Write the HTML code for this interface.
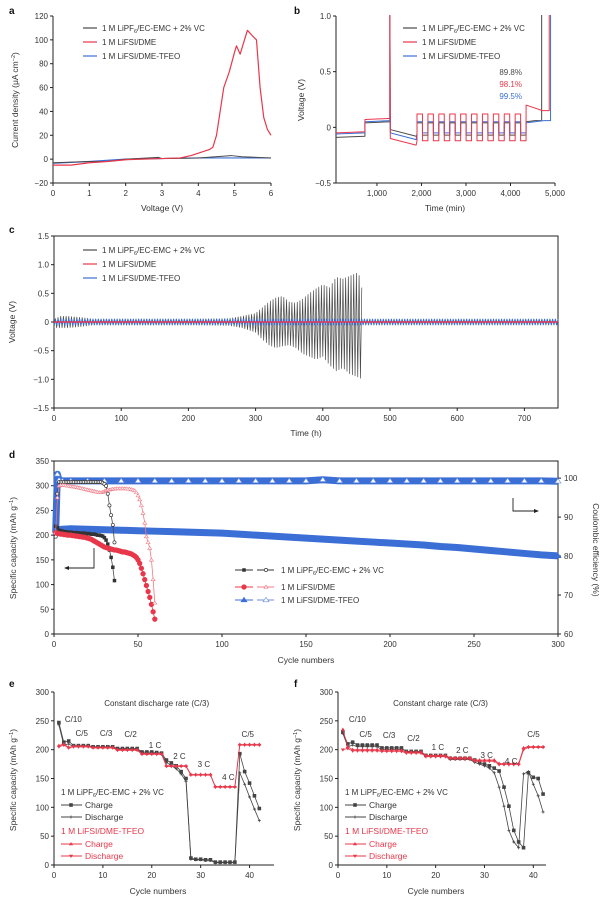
<!DOCTYPE html>
<html><head><meta charset="utf-8"><style>
html,body{margin:0;padding:0;background:#fff;}
svg{display:block;font-family:"Liberation Sans",sans-serif;}
</style></head><body>
<svg id="fig" width="600" height="900" viewBox="0 0 600 900" xmlns="http://www.w3.org/2000/svg"></svg>
<script>
// ---------- DATA ----------
// panel a
const aRedV=[0,0.5,1,1.5,2,3,3.5,3.8,4,4.3,4.4,4.5,4.6,4.7,4.85,5.0,5.05,5.15,5.3,5.35,5.5,5.6,5.7,5.8,5.9,6];
const aRedI=[-5,-5,-3,-2,-0.5,0.5,1,3,5,8,10,20,40,60,73,90,95,88,103,108,103,100,60,35,25,20];
const aBlkV=[0,1,1.5,2,2.9,3,4,4.9,5.2,6];
const aBlkI=[-3,-2,-2,0,1.5,0.5,1,3,2,1];
const aBluV=[0,1,2,3,4,6];
const aBluI=[-3.5,-2,0,0.5,1,1];
// panel b: step segments [start,end] and levels
const bSegT=[[80,730],[730,1290],[1300,1880]];
const bBlkLv=[-0.09,0.04,-0.02];
const bRedLv=[-0.05,0.07,-0.10];
const bBluLv=[-0.06,0.05,-0.05];
const bCycStart=[1900,2145,2390,2635,2880,3125,3370,3615,3860,4105];
const bCycLen=245;
const bRedHi=0.12,bRedLo=-0.12,bBluHi=0.05,bBluLo=-0.05,bBlkHi=0.04,bBlkLo=-0.07;
const bEndT=[4350,4900];
const bRedEnd=[0.2,0.15],bBlkEnd=[0.05,0.06],bBluEnd=[0.04,0.06];
const bSpikeT={blk:4700,red:4870,blu:4900};
const bPct=["89.8%","98.1%","99.5%"];
// panel c
const cT=[0,10,20,40,60,100,200,260,280,300,310,320,330,340,350,360,370,380,390,400,410,420,430,440,450,455,458];
const cUp=[0.05,0.1,0.1,0.08,0.05,0.05,0.05,0.06,0.1,0.15,0.25,0.35,0.42,0.45,0.35,0.33,0.4,0.5,0.58,0.65,0.6,0.78,0.75,0.8,0.85,0.8,0.6];
const cLow=[-0.1,-0.1,-0.1,-0.08,-0.05,-0.05,-0.05,-0.06,-0.1,-0.18,-0.3,-0.4,-0.45,-0.42,-0.4,-0.45,-0.55,-0.6,-0.65,-0.6,-0.75,-0.85,-0.8,-0.9,-0.95,-0.97,-1.0];
const cBluAmp=0.05,cRedAmp=0.01,cPeriod=4,cEnd=750;
// panel d
const dBlkCap=[218,215,210,209,208,207,207,206,206,206,205,205,205,205,204,204,204,204,203,203,203,202,202,202,201,200,200,199,198,195,190,182,170,155,135,108];
const dBlkCE=[85,96,99,99,99,99,99,99,99,99,99,99,99,99,99,99,99,99,99,99,99,99,99,99,99,99,99,99,98.8,98.5,98,96,93,90.5,88,83.5];
const dRedCap=[205,204,203,202,202,201,201,200,200,200,199,199,198,198,197,197,196,196,195,194,193,192,190,188,186,184,182,180,178,176,175,174,173,172,171,170,170,169,168,167,166,166,165,164,163,162,160,158,155,150,143,133,122,110,98,86,74,60,45,30];
const dRedCE=[86,95,98,98.2,98.2,98.2,98.1,98,98,97.9,97.8,97.8,97.7,97.6,97.5,97.4,97.3,97.2,97.1,97,96.9,96.8,96.7,96.6,96.5,96.4,96.3,96.3,96.4,96.6,96.8,97,97,97.1,97.2,97.2,97.3,97.3,97.3,97.3,97.3,97.3,97.3,97.2,97.2,97.1,97,96.8,96.3,95.5,94.5,93,91,88.5,85,83.5,82,79,74,68];
const dBluCyc=[1,2,3,5,10,20,30,40,50,60,70,80,90,100,110,120,130,140,150,160,170,180,190,200,210,220,230,240,250,260,270,280,290,300];
const dBluCap=[210,205,211,212,213,212,211,210,209,208,207,206,205,204,202,200,198,196,194,192,190,188,186,184,182,180,177,175,172,169,166,163,160,158];
const dBluCE=[86,101,99.5,99.3,99.3,99.3,99.3,99.3,99.3,99.3,99.3,99.3,99.3,99.3,99.3,99.3,99.3,99.3,99.3,99.6,99.3,99.3,99.3,99.3,99.3,99.3,99.3,99.3,99.3,99.3,99.3,99.3,99.3,99.2];
// panel e
const eBlkCh=[247,213,215,207,207,207,207,205,205,205,205,205,202,202,202,202,202,196,196,196,195,194,182,177,172,162,150,12,10,10,9,9,5,5,5,5,5,193,162,142,120,98];
const eBlkDis=[243,208,210,205,205,205,205,204,204,204,204,204,201,201,201,201,201,194,194,194,193,192,178,172,167,158,145,10,9,9,8,8,4,4,4,4,4,160,140,118,97,77];
const eRedCh=[207,210,204,206,206,206,206,204,204,204,204,204,200,200,200,200,200,193,193,193,193,193,172,172,172,172,172,157,157,157,157,157,136,136,136,136,136,209,209,209,209,209];
const eRedDis=[205,208,203,205,205,205,205,203,203,203,203,203,199,199,199,199,199,192,192,192,192,192,171,171,171,171,171,156,156,156,156,156,135,135,135,135,135,208,208,208,208,208];
// panel f
const fBlkCh=[230,210,213,208,208,208,208,208,203,203,203,203,203,197,197,197,197,190,190,190,190,190,185,185,185,185,185,182,178,175,172,168,163,135,102,60,40,30,160,152,150,123];
const fBlkDis=[228,205,208,205,205,205,205,205,200,200,200,200,200,195,195,195,195,188,188,188,188,188,183,183,183,183,183,178,175,172,168,160,135,102,60,40,30,158,162,140,120,92];
const fRedCh=[235,205,200,200,200,200,200,200,199,199,199,199,199,196,196,196,196,190,190,190,190,190,186,186,186,186,186,182,182,182,182,182,176,176,176,176,176,203,205,205,205,205];
const fRedDis=[200,202,198,198,198,198,198,198,197,197,197,197,197,194,194,194,194,188,188,188,188,188,184,184,184,184,184,180,180,180,180,180,174,174,174,174,174,200,204,204,204,204];
const eRates=[["C/10",1],["C/5",5],["C/3",10],["C/2",15],["1 C",20],["2 C",25],["3 C",30],["4 C",35],["C/5",40]];

// ---------- HELPERS ----------
const NS='http://www.w3.org/2000/svg';
const svg=document.getElementById('fig');
const BLK='#4a4a4a',RED='#e8374a',BLU='#3b6fd6',TXT='#333';
function mk(tag,attrs,parent){const e=document.createElementNS(NS,tag);for(const k in attrs)e.setAttribute(k,attrs[k]);(parent||svg).appendChild(e);return e;}
function lin(d0,d1,r0,r1){return v=>r0+(v-d0)*(r1-r0)/(d1-d0);}
function txt(x,y,s,opt,parent){opt=opt||{};const t=mk('text',{x:x,y:y,'font-size':opt.fs||8,fill:opt.fill||TXT,'text-anchor':opt.anchor||'start'},parent);if(opt.rot)t.setAttribute('transform','rotate(-90 '+x+' '+y+')');if(opt.rot90)t.setAttribute('transform','rotate(90 '+x+' '+y+')');t.textContent=s;return t;}
function fmt(v){return (v<0?'\u2212':'')+Math.abs(v);}
function axes(g,X,Y,xt,yt,xl,yl,box,x0,x1,y0,y1){
  const ax=mk('path',{d:box?`M${x0} ${y0}H${x1}V${y1}H${x0}Z`:`M${x0} ${y0}V${y1}H${x1}`,fill:'none',stroke:'#222','stroke-width':1},g);
  
  
  xt.forEach((v,i)=>{const px=X(v);mk('line',{x1:px,x2:px,y1:y1,y2:y1+3,stroke:'#222'},g);
    const t=txt(px,y1+13,xl[i],{anchor:'middle'},g);
    
    });
  yt.forEach((v,i)=>{const py=Y(v);mk('line',{x1:x0-3,x2:x0,y1:py,y2:py,stroke:'#222'},g);
    const t=txt(x0-5,py+3,yl[i],{anchor:'end'},g);
    
    });
}
function poly(g,xs,ys,X,Y,col,w){const p=mk('polyline',{points:xs.map((x,i)=>X(x)+','+Y(ys[i])).join(' '),fill:'none',stroke:col,'stroke-width':w||1,'stroke-linejoin':'round'},g);return p;}
function group(name){const g=mk('g',{});return g;}
function legLiPF(g,x,y,fs){const t=mk('text',{x:x,y:y,'font-size':fs||8,fill:TXT},g);t.innerHTML='1 M LiPF<tspan font-size="5.5" dy="2">6</tspan><tspan dy="-2">/EC-EMC + 2% VC</tspan>';return t;}
function legendABC(g,x,y,dy){
  const cols=[BLK,RED,BLU];const names=[null,'1 M LiFSI/DME','1 M LiFSI/DME-TFEO'];
  cols.forEach((c,i)=>{const l=mk('line',{x1:x,x2:x+14,y1:y+i*dy-3,y2:y+i*dy-3,stroke:c,'stroke-width':1.2},g);
    
    
    if(i===0)legLiPF(g,x+19,y);else{const t=txt(x+19,y+i*dy,names[i],{},g);}});
}
function letter(x,y,s){const t=txt(x,y,s,{fs:10});t.setAttribute('font-weight','bold');t.setAttribute('fill','#111');}
function interpEnv(ts,vs,t){for(let i=1;i<ts.length;i++){if(t<=ts[i]){const f=(t-ts[i-1])/(ts[i]-ts[i-1]);return vs[i-1]+f*(vs[i]-vs[i-1]);}}return vs[vs.length-1];}

// ---------- PANEL A ----------
(function(){
const g=group('panel-a');
const X=lin(0,6,53,271),Y=lin(-20,120,183,16);
axes(g,X,Y,[0,1,2,3,4,5,6],[-20,0,20,40,60,80,100,120],['0','1','2','3','4','5','6'],[-20,0,20,40,60,80,100,120].map(fmt),false,53,271,16,183);
let p=poly(g,aBluV,aBluI,X,Y,BLU,1.2);
p=poly(g,aBlkV,aBlkI,X,Y,BLK,1);
p=poly(g,aRedV,aRedI,X,Y,RED,1.2);
legendABC(g,83,31,14);
let t=txt(162,211,'Voltage (V)',{anchor:'middle',fs:8.5},g);
t=mk('text',{x:18,y:100,'font-size':8.5,fill:TXT,'text-anchor':'middle',transform:'rotate(-90 18 100)'},g);
t.innerHTML='Current density (\u03bcA cm<tspan font-size="5.5" dy="-3">\u22122</tspan><tspan dy="3">)</tspan>';

letter(9,14,'a');
})();

// ---------- PANEL B ----------
(function(){
const g=group('panel-b');
const X=lin(80,5000,336,555),Y=lin(-0.5,1.0,183,16);
const cl=mk('clipPath',{id:'clipb'});mk('rect',{x:336,y:15,width:220,height:169},cl);
axes(g,X,Y,[1000,2000,3000,4000,5000],[-0.5,0,0.5,1.0],['1,000','2,000','3,000','4,000','5,000'],['\u22120.5','0','0.5','1.0'],false,336,555,16,183);
function build(lv,hi,lo,endLv,spike){
  const pts=[];
  bSegT.forEach((s,i)=>{pts.push([s[0],lv[i]]);pts.push([s[1],lv[i]+(i==2?-0.06:0.01)]);});
  pts.splice(4,0,[1290,1.2]);
  bCycStart.forEach(c=>{pts.push([c,lo]);pts.push([c,hi]);pts.push([c+bCycLen/2,hi]);pts.push([c+bCycLen/2,lo]);pts.push([c+bCycLen,lo]);});
  pts.push([bEndT[0],endLv[0]]);pts.push([spike-150,endLv[1]]);pts.push([spike,endLv[1]]);pts.push([spike,1.2]);
  return pts;}
const sets=[[bBlkLv,bBlkHi,bBlkLo,bBlkEnd,bSpikeT.blk,BLK,'series-lipf6'],[bBluLv,bBluHi,bBluLo,bBluEnd,bSpikeT.blu,BLU,'series-lifsi-dme-tfeo'],[bRedLv,bRedHi,bRedLo,bRedEnd,bSpikeT.red,RED,'series-lifsi-dme']];
sets.forEach(s=>{const pts=build(s[0],s[1],s[2],s[3],s[4]);
  const p=poly(g,pts.map(q=>q[0]),pts.map(q=>q[1]),X,Y,s[5],1);p.setAttribute('clip-path','url(#clipb)');
  
  });
legendABC(g,403,31,14);
[BLK,RED,BLU].forEach((c,i)=>{const t=txt(522,75+i*12,bPct[i],{anchor:'end',fill:c},g);});
let t=txt(445,211,'Time (min)',{anchor:'middle',fs:8.5},g);
t=txt(304,100,'Voltage (V)',{anchor:'middle',fs:8.5,rot:true},g);
letter(294,14,'b');
})();

// ---------- PANEL C ----------
(function(){
const g=group('panel-c');
const X=lin(0,750,54,558),Y=lin(-1.5,1.5,408,236);
axes(g,X,Y,[0,100,200,300,400,500,600,700],[-1.5,-1,-0.5,0,0.5,1,1.5],['0','100','200','300','400','500','600','700'],['\u22121.5','\u22121.0','\u22120.5','0','0.5','1.0','1.5'],true,54,558,236,408);
const bx=[],by=[];let k=0;
for(let t=0;t<=cT[cT.length-1];t+=cPeriod/2,k++){bx.push(t);by.push(k%2?interpEnv(cT,cUp,t):interpEnv(cT,cLow,t));}
let p=poly(g,bx,by,X,Y,BLK,0.7);
const ux=[],uy=[];k=0;for(let t=0;t<=cEnd;t+=cPeriod/2,k++){ux.push(t);uy.push(k%2?cBluAmp:-cBluAmp);}
p=poly(g,ux,uy,X,Y,BLU,1);
p=poly(g,[0,cEnd],[0,0],X,Y,RED,1.6);
legendABC(g,83,253,14);
let t=txt(306,436,'Time (h)',{anchor:'middle',fs:8.5},g);
t=txt(15,322,'Voltage (V)',{anchor:'middle',fs:8.5,rot:true},g);
letter(9,233,'c');
})();

// ---------- PANEL D ----------
(function(){
const g=group('panel-d');
const X=lin(0,300,54,558),Y=lin(0,350,634,461),Y2=lin(60,104.4,634,461);
axes(g,X,Y,[0,50,100,150,200,250,300],[0,50,100,150,200,250,300,350],['0','50','100','150','200','250','300'],['0','50','100','150','200','250','300','350'],true,54,558,461,634);
[60,70,80,90,100].forEach(v=>{const py=Y2(v);mk('line',{x1:558,x2:561,y1:py,y2:py,stroke:'#222'},g);
  const t=txt(564,py+3,String(v),{},g);});
function sq(x,y,c,s){const r=mk('rect',{x:x-s/2,y:y-s/2,width:s,height:s,fill:c},g);return r;}
function circ(x,y,c,r,open){return mk('circle',{cx:x,cy:y,r:r,fill:open?'#fff':c,stroke:c,'stroke-width':0.7},g);}
function tri(x,y,c,s,open,down){const d=down?1:-1;return mk('path',{d:`M${x-s} ${y-d*s*0.6}L${x+s} ${y-d*s*0.6}L${x} ${y+d*s*0.9}Z`,fill:open?'#fff':c,stroke:c,'stroke-width':0.6},g);}
const bc=dBluCyc;
let p=poly(g,bc,dBluCap,X,Y,BLU,7);
p=poly(g,bc,dBluCE,X,Y2,BLU,7);
bc.forEach((c,i)=>{let m=tri(X(c),Y(dBluCap[i]),BLU,3);
  m=tri(X(c),Y2(dBluCE[i]),'#6b8fe0',3,true);});
const kc=dBlkCap.map((v,i)=>i+1);
p=poly(g,kc,dBlkCap,X,Y,BLK,0.8);
p=poly(g,kc,dBlkCE,X,Y2,BLK,0.8);
kc.forEach((c,i)=>{let m=sq(X(c),Y(dBlkCap[i]),'#333',3.5);
  m=circ(X(c),Y2(dBlkCE[i]),'#333',1.6,true);});
const rc=dRedCap.map((v,i)=>i+1);
p=poly(g,rc,dRedCap,X,Y,RED,0.8);
p=poly(g,rc,dRedCE,X,Y2,'#f07a85',0.8);
rc.forEach((c,i)=>{let m=circ(X(c),Y(dRedCap[i]),RED,2.3);
  m=tri(X(c),Y2(dRedCE[i]),'#f07a85',2,true);});
let a=mk('path',{d:'M94 548V568H66',fill:'none',stroke:'#222','stroke-width':0.9},g);
mk('path',{d:'M64 568L69 566L69 570Z',fill:'#222'},g);
a=mk('path',{d:'M513 498V511H537',fill:'none',stroke:'#222','stroke-width':0.9},g);
mk('path',{d:'M539 511L534 509L534 513Z',fill:'#222'},g);
const ly=[570,587,600];
const lcol=[['#333','#333'],[RED,'#f07a85'],[BLU,'#6b8fe0']];
ly.forEach((y,i)=>{mk('line',{x1:235,x2:253,y1:y,y2:y,stroke:lcol[i][0]},g);mk('line',{x1:257,x2:274,y1:y,y2:y,stroke:lcol[i][1]},g);
  let m;if(i===0){m=sq(244,y,'#333',3.5);circ(266,y,'#333',1.6,true);}else if(i===1){m=circ(244,y,RED,2.3);tri(266,y,lcol[i][1],2,true);}else{m=tri(244,y,BLU,3);tri(266,y,lcol[i][1],3,true);}
  });
legLiPF(g,281,573);
let t=txt(281,590,'1 M LiFSI/DME',{},g);
t=txt(281,603,'1 M LiFSI/DME-TFEO',{},g);
t=txt(306,663,'Cycle numbers',{anchor:'middle',fs:8.5},g);
t=mk('text',{x:16,y:548,'font-size':8.5,fill:TXT,'text-anchor':'middle',transform:'rotate(-90 16 548)'},g);
t.innerHTML='Specific capacity (mAh g<tspan font-size="5.5" dy="-3">\u22121</tspan><tspan dy="3">)</tspan>';

t=txt(593,550,'Coulombic efficiency (%)',{anchor:'middle',fs:8.5,rot90:true},g);
letter(9,458,'d');
})();

// ---------- PANELS E & F ----------
function ratePanel(name,x0,x1,xmax,chB,disB,chR,disR,title,rateY,rateDx){
const g=group(name);
const X=lin(0,xmax,x0,x1),Y=lin(0,300,865,692);
axes(g,X,Y,[0,10,20,30,40],[0,50,100,150,200,250,300],['0','10','20','30','40'],['0','50','100','150','200','250','300'],false,x0,x1,692,865);
const cyc=chB.map((v,i)=>i+1);
function sq(x,y){return mk('rect',{x:x-1.8,y:y-1.8,width:3.6,height:3.6,fill:'#444'},g);}
function plus(x,y){return mk('path',{d:`M${x-1.5} ${y}H${x+1.5}M${x} ${y-1.5}V${y+1.5}`,stroke:'#444','stroke-width':0.8},g);}
function tri(x,y,down){const d=down?1:-1;return mk('path',{d:`M${x-2} ${y-d*1.2}L${x+2} ${y-d*1.2}L${x} ${y+d*2}Z`,fill:RED},g);}
let p=poly(g,cyc,chB,X,Y,'#444',0.8);
p=poly(g,cyc,disB,X,Y,'#444',0.8);
cyc.forEach((c,i)=>{let m=sq(X(c),Y(chB[i]));
  m=plus(X(c),Y(disB[i]));});
p=poly(g,cyc,chR,X,Y,RED,0.8);
p=poly(g,cyc,disR,X,Y,RED,0.8);
cyc.forEach((c,i)=>{let m=tri(X(c),Y(chR[i]));
  m=tri(X(c),Y(disR[i]),true);});
let t=txt(X(21),706,title,{anchor:'middle'},g);
eRates.forEach((r,i)=>{const tt=txt(X(r[1])+rateDx[i],rateY[i],r[0],{},g);});
const lx=x0+7;
legLiPF(g,lx,795);
[[808,'Charge','#444',0],[820,'Discharge','#444',1],[847,'Charge',RED,2],[859,'Discharge',RED,3]].forEach(r=>{
  mk('line',{x1:lx,x2:lx+21,y1:r[0]-3,y2:r[0]-3,stroke:r[2]},g);
  const m=r[3]==0?sq(lx+10,r[0]-3):r[3]==1?plus(lx+10,r[0]-3):tri(lx+10,r[0]-3,r[3]==3);
  
  const tt=txt(lx+24,r[0],r[1],{fs:8.5,fill:r[3]>1?RED:TXT},g);});
t=txt(lx,834,'1 M LiFSI/DME-TFEO',{fill:RED,fs:8.5},g);
t=txt((x0+x1)/2-6,894,'Cycle numbers',{anchor:'middle',fs:8.5},g);
t=mk('text',{x:x0-38,y:780,'font-size':8.5,fill:TXT,'text-anchor':'middle',transform:`rotate(-90 ${x0-38} 780)`},g);
t.innerHTML='Specific capacity (mAh g<tspan font-size="5.5" dy="-3">\u22121</tspan><tspan dy="3">)</tspan>';

}
ratePanel('panel-e',54,274,45,eBlkCh,eBlkDis,eRedCh,eRedDis,'Constant discharge rate (C/3)',[722,736,736,737,748,759,767,780,737],[6,-3,-3,-3,-3,-3,-3,-3,-8]);
ratePanel('panel-f',338,546,42.6,fBlkCh,fBlkDis,fRedCh,fRedDis,'Constant charge rate (C/3)',[722,737,738,741,750,753,758,764,737],[6,-3,-4,-4,-4,-4,-4,-4,-6]);
letter(9,687,'e');letter(294,687,'f');
</script>
</body></html>
